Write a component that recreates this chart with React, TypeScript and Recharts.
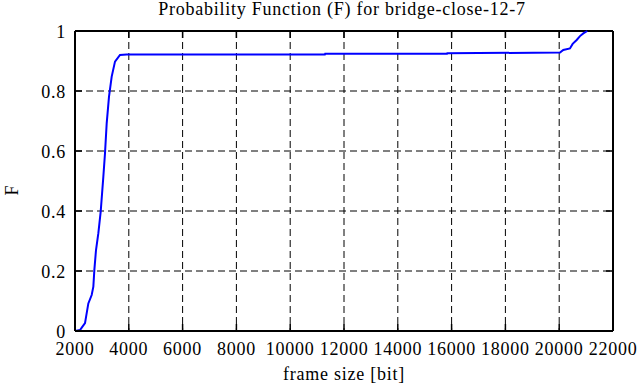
import React from 'react';
import { LineChart, Line, XAxis, YAxis, CartesianGrid, ReferenceLine } from 'recharts';

const frameSize = [2000, 2186, 2372, 2496, 2620, 2682, 2719, 2781, 2868, 2955, 3053, 3115, 3178, 3264, 3364, 3487, 3673, 3922, 6800, 11290, 11300, 15830, 15840, 20030, 20152, 20400, 20500, 20650, 20773, 20896, 21045];
const probF = [0, 0.003, 0.026, 0.092, 0.12, 0.148, 0.203, 0.27, 0.326, 0.398, 0.514, 0.592, 0.692, 0.781, 0.848, 0.898, 0.92, 0.922, 0.922, 0.922, 0.924, 0.924, 0.926, 0.928, 0.937, 0.942, 0.957, 0.97, 0.983, 0.992, 1.0];
const xTicks = [2000, 4000, 6000, 8000, 10000, 12000, 14000, 16000, 18000, 20000, 22000];
const yTicks = [0, 0.2, 0.4, 0.6, 0.8, 1];

const data = frameSize.map((x, i) => ({ x, f: probF[i] }));

const W = 639;
const H = 387;
const MARGIN = { top: 31, right: 26, bottom: 0, left: 0 };
const Y_W = 75;
const X_H = 56;
const PLOT_W = W - MARGIN.right - Y_W;
const PLOT_H = H - MARGIN.top - X_H;
const FONT = "Liberation Serif, Tinos, serif";
const LS = '0.75px';
const TICK_LEN = 7;

const XTick = (props: any) => {
  const { x, y, payload } = props;
  return (
    <g>
      <line x1={x} x2={x} y1={y} y2={y - TICK_LEN} stroke="#000" strokeWidth={1.5} />
      <line x1={x} x2={x} y1={y - PLOT_H} y2={y - PLOT_H + TICK_LEN} stroke="#000" strokeWidth={1.5} />
      <text x={x} y={y + 24} textAnchor="middle" style={{ fontFamily: FONT, fontSize: 18, letterSpacing: LS }} fill="#000">
        {payload.value}
      </text>
    </g>
  );
};

const YTick = (props: any) => {
  const { x, y, payload } = props;
  return (
    <g>
      <line x1={x} x2={x + TICK_LEN} y1={y} y2={y} stroke="#000" strokeWidth={1.5} />
      <line x1={x + PLOT_W - TICK_LEN} x2={x + PLOT_W} y1={y} y2={y} stroke="#000" strokeWidth={1.5} />
      <text x={x - 9} y={y + 7} textAnchor="end" style={{ fontFamily: FONT, fontSize: 18, letterSpacing: LS }} fill="#000">
        {payload.value}
      </text>
    </g>
  );
};

export default function App() {
  return (
    <div style={{ position: 'absolute', left: 0, top: 0, width: W, height: H, background: '#fff', fontFamily: FONT, letterSpacing: LS }}>
      <div style={{ position: 'absolute', left: 0, width: 684, top: -1, textAlign: 'center', fontSize: 18, lineHeight: '20px', color: '#000', whiteSpace: 'nowrap' }}>
        Probability Function (F) for bridge-close-12-7
      </div>
      <LineChart width={W} height={H} data={data} margin={MARGIN}>
        <CartesianGrid stroke="#000" strokeDasharray="7 4" strokeWidth={1} />
        <XAxis
          dataKey="x"
          type="number"
          domain={[2000, 22000]}
          ticks={xTicks}
          height={X_H}
          tickSize={0}
          tickMargin={0}
          tickLine={false}
          axisLine={{ stroke: '#000', strokeWidth: 2 }}
          tick={<XTick />}
          interval={0}
          allowDataOverflow
        />
        <YAxis
          type="number"
          domain={[0, 1]}
          ticks={yTicks}
          width={Y_W}
          tickSize={0}
          tickMargin={0}
          tickLine={false}
          axisLine={{ stroke: '#000', strokeWidth: 2 }}
          tick={<YTick />}
          interval={0}
        />
        <ReferenceLine y={1} stroke="#000" strokeWidth={2} />
        <ReferenceLine x={22000} stroke="#000" strokeWidth={2} />
        <Line type="linear" dataKey="f" stroke="#0000ff" strokeWidth={2} dot={false} isAnimationActive={false} />
      </LineChart>
      <div style={{ position: 'absolute', left: 0, top: 180, width: 24, height: 20, fontSize: 18, lineHeight: '20px', textAlign: 'center', transform: 'rotate(-90deg)', color: '#000' }}>
        F
      </div>
      <div style={{ position: 'absolute', left: Y_W, width: PLOT_W, top: 364, textAlign: 'center', fontSize: 18, lineHeight: '20px', color: '#000', whiteSpace: 'nowrap' }}>
        frame size [bit]
      </div>
    </div>
  );
}
